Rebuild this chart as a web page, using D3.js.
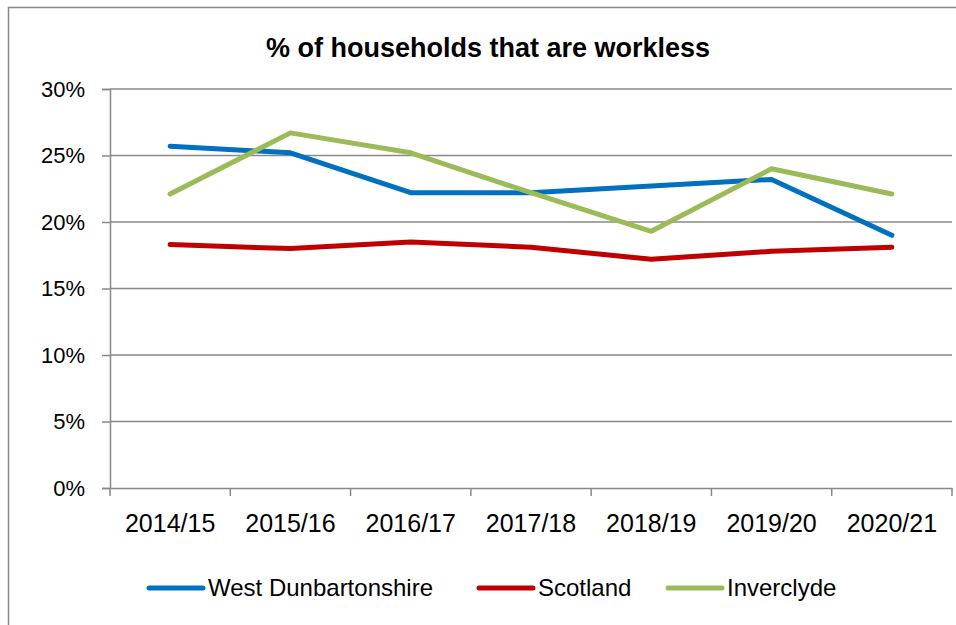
<!DOCTYPE html>
<html>
<head>
<meta charset="utf-8">
<script src="https://cdn.jsdelivr.net/npm/d3@7"></script>
<style>
  body { margin: 0; background: #fff; }
  svg { display: block; font-family: "Liberation Sans", Arial, sans-serif; }
</style>
</head>
<body>
<div id="chart"></div>
<script>
const years = ["2014/15", "2015/16", "2016/17", "2017/18", "2018/19", "2019/20", "2020/21"];
const westDunbartonshire = [25.7, 25.2, 22.2, 22.2, 22.7, 23.2, 19.0];
const scotland = [18.3, 18.0, 18.5, 18.1, 17.2, 17.8, 18.1];
const inverclyde = [22.1, 26.7, 25.2, 22.2, 19.3, 24.0, 22.1];
const yTicks = [0, 5, 10, 15, 20, 25, 30];

const series = [
    { name: "West Dunbartonshire", values: westDunbartonshire, color: "#0070C0" },
    { name: "Scotland", values: scotland, color: "#C00000" },
    { name: "Inverclyde", values: inverclyde, color: "#9BBB59" }
];

const width = 956, height = 625;
const margin = { top: 89, right: 4, bottom: 137, left: 110 };

const svg = d3.select("#chart")
    .append("svg")
    .attr("width", width)
    .attr("height", height);

// outer chart border
svg.append("rect")
    .attr("x", 8.5).attr("y", 7.5)
    .attr("width", 1000).attr("height", 700)
    .attr("fill", "none")
    .attr("stroke", "#898989")
    .attr("stroke-width", 1.5);

const x = d3.scaleBand()
    .domain(years)
    .range([margin.left, width - margin.right]);

const y = d3.scaleLinear()
    .domain([0, 30])
    .range([height - margin.bottom, margin.top]);

// gridlines
svg.append("g")
    .selectAll("line")
    .data(yTicks.filter(d => d > 0))
    .join("line")
    .attr("x1", margin.left).attr("x2", width - margin.right)
    .attr("y1", d => y(d)).attr("y2", d => y(d))
    .attr("stroke", "#898989")
    .attr("stroke-width", 1.5);

// y axis
const yAxis = svg.append("g")
    .attr("transform", "translate(" + margin.left + ",0)")
    .call(d3.axisLeft(y).tickValues(yTicks).tickFormat(d => d + "%").tickSize(8).tickPadding(17));
yAxis.select(".domain").attr("stroke", "#898989").attr("stroke-width", 1.5);
yAxis.selectAll(".tick line").attr("stroke", "#898989").attr("stroke-width", 1.5);
yAxis.selectAll("text").attr("font-size", 22).attr("fill", "#000")
    .attr("font-family", "Liberation Sans, Arial, sans-serif");

// x axis
const xAxis = svg.append("g")
    .attr("transform", "translate(0," + y(0) + ")")
    .call(d3.axisBottom(x).tickSize(0).tickPadding(26));
xAxis.select(".domain").attr("stroke", "#898989").attr("stroke-width", 1.5);
xAxis.selectAll("text").attr("font-size", 25).attr("fill", "#000")
    .attr("font-family", "Liberation Sans, Arial, sans-serif");

// category boundary ticks
svg.append("g")
    .selectAll("line")
    .data(years.concat(["end"]))
    .join("line")
    .attr("x1", (d, i) => i < years.length ? x(d) : x.range()[1])
    .attr("x2", (d, i) => i < years.length ? x(d) : x.range()[1])
    .attr("y1", y(0)).attr("y2", y(0) + 8)
    .attr("stroke", "#898989")
    .attr("stroke-width", 1.5);

// lines
const line = d3.line()
    .x((d, i) => x(years[i]) + x.bandwidth() / 2)
    .y(d => y(d));

svg.append("g")
    .selectAll("path")
    .data(series)
    .join("path")
    .attr("d", d => line(d.values))
    .attr("fill", "none")
    .attr("stroke", d => d.color)
    .attr("stroke-width", 5)
    .attr("stroke-linejoin", "round")
    .attr("stroke-linecap", "round");

// title
svg.append("text")
    .attr("x", 488).attr("y", 57)
    .attr("text-anchor", "middle")
    .attr("font-size", 27)
    .attr("font-weight", "bold")
    .text("% of households that are workless");

// legend
const legendX = [149, 479, 668];
const legend = svg.append("g")
    .selectAll("g")
    .data(series)
    .join("g")
    .attr("transform", (d, i) => "translate(" + legendX[i] + ",588)");

legend.append("line")
    .attr("x1", 0).attr("x2", 54)
    .attr("stroke", d => d.color)
    .attr("stroke-width", 5)
    .attr("stroke-linecap", "round");

legend.append("text")
    .attr("x", 59)
    .attr("dy", "0.35em")
    .attr("font-size", 24)
    .text(d => d.name);
</script>
</body>
</html>
